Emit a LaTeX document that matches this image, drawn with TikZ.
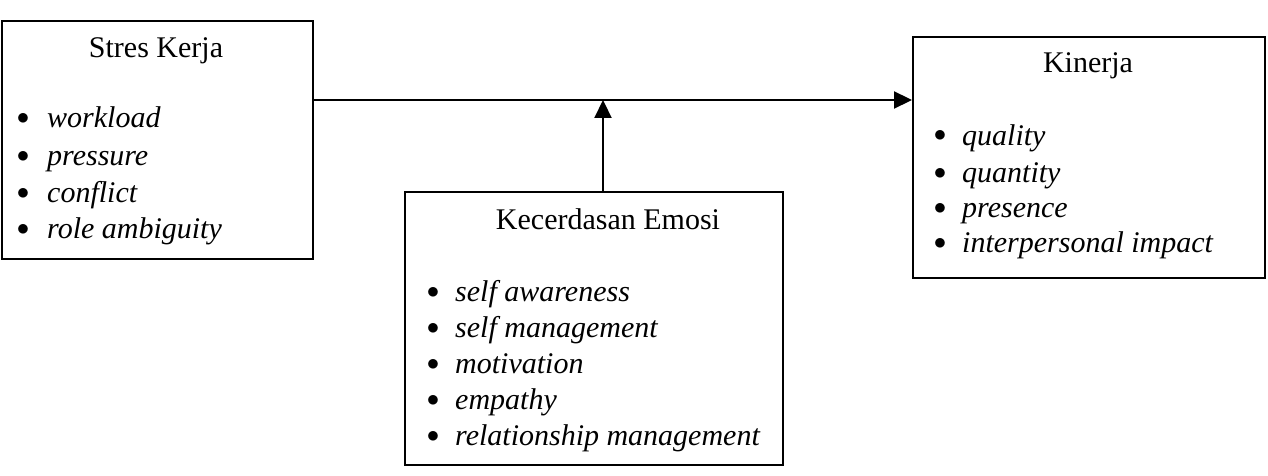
\documentclass[tikz,border=0pt]{standalone}
\usepackage{fontspec}
\setmainfont{Liberation Serif}
\usetikzlibrary{arrows.meta}
\newcommand{\mybul}{\raisebox{3pt}{$\bullet$}}
\begin{document}
\begin{tikzpicture}[x=1pt,y=-1pt,
  box/.style={draw, line width=1.8pt, inner sep=0pt, anchor=north west},
  ttl/.style={font=\fontsize{30}{37}\selectfont, anchor=base, inner sep=0pt},
  item/.style={font=\fontsize{30}{37}\selectfont\itshape, anchor=base west, inner sep=0pt},
  bul/.style={font=\fontsize{30}{37}\selectfont, anchor=base, inner sep=0pt},
  arr/.style={line width=2.2pt, -{Triangle[length=18pt,width=17pt]}}]
\useasboundingbox (0,0) rectangle (1268,476);
% boxes
\node[box, minimum width=311pt, minimum height=238pt] (b1) at (1,20) {};
\node[box, minimum width=352pt, minimum height=241pt] (b2) at (912,36) {};
\node[box, minimum width=378pt, minimum height=273pt] (b3) at (404,191) {};
% box 1
\node[ttl] (t1) at (156,58) {Stres Kerja};
\node[bul] (p11) at (23,128) {\mybul}; \node[item] (i11) at (47,128) {workload};
\node[bul] (p12) at (23,165) {\mybul}; \node[item] (i12) at (47,165) {pressure};
\node[bul] (p13) at (23,202) {\mybul}; \node[item] (i13) at (47,202) {conflict};
\node[bul] (p14) at (23,238) {\mybul}; \node[item] (i14) at (47,238) {role ambiguity};
% box 2
\node[ttl] (t2) at (1088,73) {Kinerja};
\node[bul] (p21) at (940,145) {\mybul}; \node[item] (i21) at (962,145) {quality};
\node[bul] (p22) at (940,182) {\mybul}; \node[item] (i22) at (962,182) {quantity};
\node[bul] (p23) at (940,217) {\mybul}; \node[item] (i23) at (962,217) {presence};
\node[bul] (p24) at (940,252) {\mybul}; \node[item] (i24) at (962,252) {interpersonal impact};
% box 3
\node[ttl] (t3) at (608,229) {Kecerdasan Emosi};
\node[bul] (p31) at (433,301) {\mybul}; \node[item] (i31) at (455,301) {self awareness};
\node[bul] (p32) at (433,337) {\mybul}; \node[item] (i32) at (455,337) {self management};
\node[bul] (p33) at (433,373) {\mybul}; \node[item] (i33) at (455,373) {motivation};
\node[bul] (p34) at (433,409) {\mybul}; \node[item] (i34) at (455,409) {empathy};
\node[bul] (p35) at (433,445) {\mybul}; \node[item] (i35) at (455,445) {relationship management};
% connectors
\coordinate (j) at (603,100);
\draw[arr] (b1.east |- j) -- (b2.west |- j);
\draw[arr] (j |- b3.north) -- (j);
\end{tikzpicture}
\end{document}
